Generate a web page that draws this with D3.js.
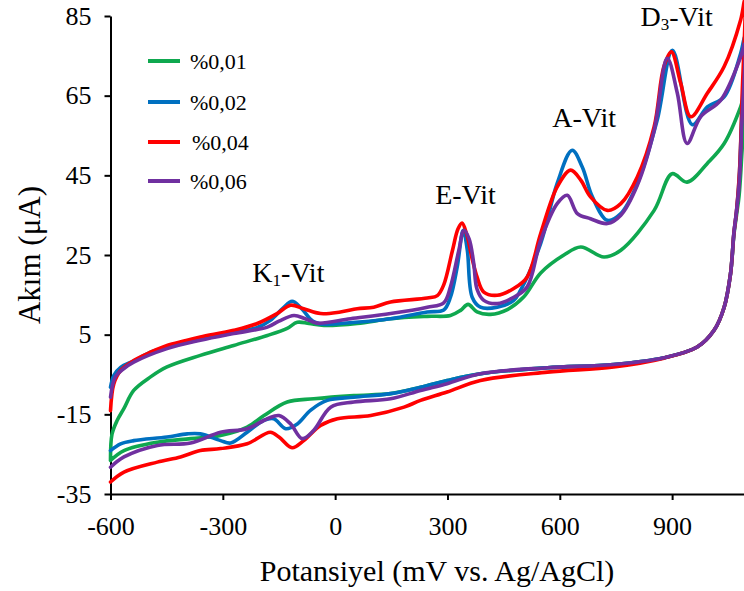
<!DOCTYPE html>
<html>
<head>
<meta charset="utf-8">
<script src="https://cdn.jsdelivr.net/npm/d3@7/dist/d3.min.js"></script>
<style>
  html, body { margin: 0; padding: 0; background: #fff; }
  svg { display: block; }
  text { font-family: "Liberation Serif", "Times New Roman", serif; fill: #000; }
</style>
</head>
<body>
<svg id="chart" width="744" height="591"></svg>
<script>
// Cyclic voltammograms: [potential mV, current µA], forward (anodic) scan then reverse scan.
const seriesNames = ["%0,01", "%0,02", "%0,04", "%0,06"];
const seriesColors = ["#0fa84f", "#0070c0", "#ff0000", "#7030a0"];

const green01 = [
  [-600,-26.6],[-596,-20],[-582,-16.5],[-564,-13.5],[-538,-9],[-493,-5.6],[-449,-3.1],[-360,-0.2],
  [-271,2.3],[-181,4.8],[-128,6.6],[-101,8.1],[-70,7.8],[-30,7.3],[59,7.8],[148,9],[246,9.6],
  [308,9.8],[335,11.1],[355,12.6],[379,10.7],[415,10.1],[460,11.3],[504,14.5],[549,20.5],
  [611,25],[656,27],[718,24.5],[763,26.2],[852,36.2],[900,45.4],[940,43.3],[994,48],[1039,53],
  [1083,62.2],[1094,65.6],
  [1086,50],[1079,40],[1072,35],[1065,30],[1056,20.3],[1039,11.9],[1012,6.1],[967,1.9],[878,-0.8],
  [744,-2.5],[567,-3.3],[388,-4.8],[299,-6.5],[228,-8.2],[148,-9.8],[50,-10.3],[-57,-11.1],
  [-128,-11.9],[-190,-15.3],[-235,-18.2],[-306,-20.3],[-386,-21.1],[-475,-22],[-564,-24.1],[-600,-26.6]
];

const blue02 = [
  [-600,-8.2],[-591,-5.2],[-573,-3.2],[-538,-1.6],[-493,0.6],[-449,1.8],[-360,3.8],[-271,5.5],
  [-208,6.8],[-173,8.6],[-140,11.6],[-115,13.4],[-90,11.6],[-60,8.4],[-30,7.6],[14,7.8],[148,9],
  [246,10.7],[290,11.2],[308,14.4],[326,22],[342,31.2],[353,26.2],[366,14.4],[388,11.9],[433,11.9],
  [477,13.6],[495,16.1],[549,27.9],[593,43],[633,51.3],[660,47.1],[687,39.6],[727,33.7],[763,35.4],
  [807,42.9],[860,58.8],[901,76.4],[954,57.7],[994,62.2],[1039,64.7],[1083,75.6],[1094,79.8],
  [1086,60],[1079,44],[1072,36],[1065,30.5],[1056,20.3],[1039,11.9],[1012,6.1],[967,1.9],[878,-0.8],
  [744,-2.5],[567,-3.3],[388,-4.8],[299,-6.5],[228,-8.2],[148,-9.8],[50,-10.7],[-21,-11.5],
  [-66,-14],[-101,-17.4],[-132,-18.6],[-164,-16.1],[-190,-16.5],[-235,-19.5],[-279,-22.2],
  [-306,-21.6],[-360,-19.9],[-395,-19.9],[-449,-20.7],[-538,-21.6],[-573,-22.4],[-600,-24.1]
];

const red04 = [
  [-600,-14.1],[-591,-7.3],[-573,-4],[-538,-1.5],[-493,0.6],[-449,2.3],[-404,3.4],[-360,4.4],
  [-271,6.1],[-208,7.8],[-155,10.3],[-119,12.4],[-84,11.5],[-39,10.3],[14,10.7],[59,11.5],
  [103,11.9],[148,13.2],[246,14.2],[273,14.8],[290,17.5],[313,26],[328,31.5],[339,33],[352,30],
  [366,24],[379,19.5],[397,15.7],[433,14.9],[477,16.6],[513,19.5],[549,30.4],[593,42.1],
  [629,46.3],[656,43.8],[682,39.6],[727,36.2],[763,37.9],[807,44.6],[852,57.2],[878,72.3],
  [898,76],[923,68.1],[950,59.7],[994,65.6],[1039,72.3],[1083,84],[1094,89],
  [1087,65],[1080,46],[1072,36],[1065,30.5],[1056,20.3],[1039,11.9],[1012,6.1],[967,1.9],[878,-0.9],
  [744,-3.1],[567,-4.4],[388,-6.5],[299,-9.4],[228,-11.5],[184,-13.2],[95,-15.3],[6,-16.1],
  [-39,-17.8],[-84,-21.6],[-115,-23.4],[-150,-20.7],[-173,-19.5],[-235,-22.4],[-306,-23.6],
  [-360,-24.1],[-413,-25.7],[-475,-27],[-564,-29.5],[-600,-32]
];

const purple06 = [
  [-600,-10.7],[-587,-5.6],[-564,-3.5],[-538,-1.9],[-449,1.5],[-360,3.6],[-271,5.3],[-181,6.9],
  [-150,8.4],[-110,9.8],[-80,9],[-48,7.9],[41,9],[148,10.3],[246,11.9],[290,13],[308,17],
  [330,26],[344,31.2],[358,29],[370,23],[379,16.4],[397,13.6],[433,12.8],[477,14.4],[513,17],
  [549,28.7],[593,37.9],[620,40],[647,35.4],[682,34.1],[727,32.9],[763,35],[807,42.5],[852,56.3],
  [887,74.4],[914,65.6],[940,53],[976,59.7],[1030,63.9],[1083,74.7],[1094,78],
  [1086,58],[1079,43],[1072,36],[1065,30.5],[1056,20.3],[1039,11.9],[1012,6.1],[967,1.9],[878,-0.8],
  [744,-2.5],[567,-3.3],[388,-4.8],[299,-7.3],[228,-9],[148,-11.1],[50,-11.9],[-12,-13.2],
  [-57,-19],[-88,-21.1],[-119,-17.4],[-150,-15.3],[-181,-16.1],[-235,-18.6],[-306,-19.5],
  [-386,-22.2],[-475,-22.8],[-564,-25.7],[-600,-28.3]
];

const seriesData = [green01, blue02, red04, purple06];
const drawOrder = [0, 1, 2, 3];

const xTicks = [-600, -300, 0, 300, 600, 900];
const yTicks = [-35, -15, 5, 25, 45, 65, 85];

const peakLabels = [
  { main: "K", sub: "1", rest: "-Vit", x: -125, y: 18.2 },
  { main: "E-Vit", sub: "", rest: "", x: 348, y: 37.8 },
  { main: "A-Vit", sub: "", rest: "", x: 665, y: 57.2 },
  { main: "D", sub: "3", rest: "-Vit", x: 912, y: 82.5 }
];

const svg = d3.select("#chart");

const x = d3.scaleLinear().domain([-600, 1100]).range([110.5, 747]);
const y = d3.scaleLinear().domain([-35, 85]).range([494, 16]);

// Axes (plain hyphen for negative tick labels)
const plain = d => String(d);
const yAxis = svg.append("g")
  .attr("transform", `translate(${x(-600)},0)`)
  .call(d3.axisLeft(y).tickValues(yTicks).tickSizeInner(6).tickSizeOuter(0).tickPadding(13)
    .tickFormat(plain));
const xAxis = svg.append("g")
  .attr("transform", `translate(0,${y(-35)})`)
  .call(d3.axisBottom(x).tickValues(xTicks).tickSizeInner(6).tickSizeOuter(0).tickPadding(17)
    .tickFormat(plain));

[yAxis, xAxis].forEach(g => {
  g.select(".domain").attr("stroke", "#000").attr("stroke-width", 2);
  g.selectAll(".tick line").attr("stroke", "#000").attr("stroke-width", 2);
  g.selectAll(".tick text")
    .attr("fill", "#000")
    .style("font-family", "'Liberation Serif', 'Times New Roman', serif")
    .style("font-size", "26px");
});

// Axis titles
svg.append("text")
  .attr("x", 437).attr("y", 581)
  .attr("text-anchor", "middle")
  .style("font-size", "30px")
  .text("Potansiyel (mV vs. Ag/AgCl)");

svg.append("text")
  .attr("transform", "translate(40,255) rotate(-90)")
  .attr("text-anchor", "middle")
  .style("font-size", "31px")
  .text("Akım (μA)");

// Voltammogram curves
const line = d3.line()
  .x(d => x(d[0]))
  .y(d => y(d[1]))
  .curve(d3.curveCatmullRom.alpha(0.5));

svg.append("g").selectAll("path")
  .data(drawOrder)
  .join("path")
  .attr("d", i => line(seriesData[i]))
  .attr("fill", "none")
  .attr("stroke", i => seriesColors[i])
  .attr("stroke-width", 3.6)
  .attr("stroke-linejoin", "round")
  .attr("stroke-linecap", "round");

// Peak annotations
const ann = svg.append("g");
peakLabels.forEach(p => {
  const t = ann.append("text")
    .attr("x", x(p.x)).attr("y", y(p.y))
    .attr("text-anchor", "middle")
    .style("font-size", "28px");
  t.append("tspan").text(p.main);
  if (p.sub) {
    t.append("tspan").attr("dy", 4).style("font-size", "17px").text(p.sub);
    t.append("tspan").attr("dy", -4).text(p.rest);
  }
});

// Legend
const legend = svg.append("g");
const legendY = [61, 102, 142, 181];
seriesNames.forEach((name, i) => {
  legend.append("line")
    .attr("x1", 148).attr("x2", 180)
    .attr("y1", legendY[i]).attr("y2", legendY[i])
    .attr("stroke", seriesColors[i]).attr("stroke-width", 4);
  legend.append("text")
    .attr("x", i === 2 ? 192 : 190).attr("y", legendY[i])
    .attr("dy", "0.35em")
    .style("font-size", "22px")
    .text(name);
});
</script>
</body>
</html>
